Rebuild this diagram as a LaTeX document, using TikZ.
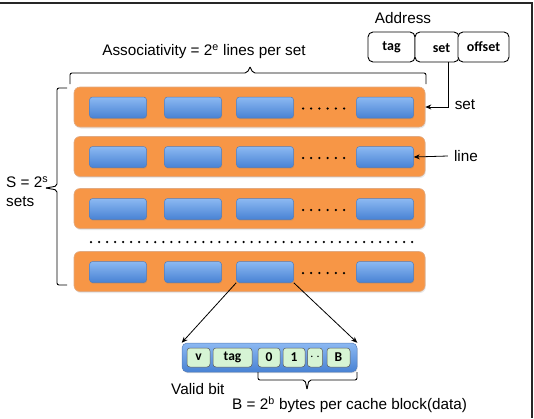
\documentclass[tikz,border=0pt]{standalone}
\usepackage{fontspec}
\setmainfont{Liberation Sans}
\newfontfamily\carlito{Carlito}
\usetikzlibrary{arrows.meta,shadows}
\definecolor{orng}{RGB}{247,150,70}
\definecolor{orngedge}{RGB}{225,170,130}
\definecolor{bluetop}{RGB}{140,185,242}
\definecolor{bluebot}{RGB}{72,130,212}
\definecolor{blueedge}{RGB}{85,125,185}
\definecolor{greenfill}{RGB}{214,244,212}
\tikzset{
  orangebox/.style={rounded corners=6pt, fill=orng, draw=orngedge, line width=0.6pt,
    minimum width=351pt, minimum height=40pt, inner sep=0pt,
    drop shadow={opacity=0.18, shadow xshift=0.8pt, shadow yshift=-1.5pt}},
  bluebox/.style={rounded corners=3pt, top color=bluetop, bottom color=bluebot, draw=blueedge,
    line width=0.5pt, minimum width=57pt, minimum height=21pt, inner sep=0pt,
    drop shadow={opacity=0.3, shadow xshift=0.6pt, shadow yshift=-1.2pt}},
  cacheblk/.style={rounded corners=5pt, top color=bluetop, bottom color=bluebot, draw=blueedge,
    line width=0.5pt, minimum width=175pt, minimum height=29pt, inner sep=0pt,
    drop shadow={opacity=0.25, shadow xshift=0.6pt, shadow yshift=-1.2pt}},
  greenbox/.style={rounded corners=3pt, fill=greenfill, draw=black!65, line width=0.5pt,
    minimum height=19pt, inner sep=0pt, font=\carlito\bfseries\fontsize{13.5}{15}\selectfont},
  addrbox/.style={rounded corners=5pt, draw=black, fill=white, line width=0.9pt,
    minimum height=30pt, inner sep=0pt, font=\carlito\bfseries\fontsize{14}{16}\selectfont},
  lbl/.style={font=\fontsize{15.3}{18}\selectfont, inner sep=0pt},
  arr/.style={-{Stealth[length=6pt,width=5pt]}, line width=0.8pt, black},
  brc/.style={line width=0.9pt, black, rounded corners=2pt},
  dotmark/.style={fill=black, circle, inner sep=0pt, minimum size=2.5pt}
}
\begin{document}
\begin{tikzpicture}[x=1pt,y=-1pt]
\useasboundingbox (0,0) rectangle (534,418);
% frame
\draw[line width=1.4pt, black!85] (0,3) -- (532,3) -- (532,418);

% address
\node[lbl] (addrtxt) at (403,18) {Address};
\node[addrbox, minimum width=47pt] (tagbox) at (391.5,47) {tag};
\node[addrbox, minimum width=44pt] (setbox) at (437,47) {};
\node[addrbox, minimum width=51pt] (offbox) at (483.5,47) {offset};
\node[inner sep=0pt, font=\carlito\bfseries\fontsize{14}{16}\selectfont] (settxt) at (441.5,48) {set};

% associativity label & brace
\node[lbl] (assoc) at (204,52) {Associativity = 2\textsuperscript{e} lines per set};
\coordinate (tbL) at (70,84);
\coordinate (tbR) at (426,84);
\draw[brc] (tbL) -- (70,73) -- (247,73) -- (250,67);
\draw[brc] (250,67) -- (253,73) -- (426,73) -- (tbR);

% rows
\foreach \r/\y in {1/107,2/156.5,3/208.5,4/271.5}{
  \node[orangebox] (r\r) at (249.5,\y) {};
  \foreach \c/\x in {1/118,2/193,3/265,4/385}{
    \node[bluebox] (b\r\c) at (\x,\y+0.5) {};
  }
  \foreach \i in {0,...,5}{
    \node[dotmark] (d\r\i) at (303+8.2*\i,\y+1.5) {};
  }
}
% dotted row
\foreach \i in {0,...,40}{
  \node[dotmark] (dr\i) at (91+8.03*\i,242) {};
}

% left brace
\draw[brc] (67,88) -- (57,88) -- (57,186) -- (46,188);
\draw[brc] (46,188) -- (57,190) -- (57,285) -- (67,285);
\node[lbl, anchor=west] (stxt) at (6,182) {S = 2\textsuperscript{s}};
\node[lbl, anchor=west] (setstxt) at (6,202) {sets};

% set and line pointers
\node[lbl] (setlbl) at (465,105) {set};
\node[lbl] (linelbl) at (466,156) {line};
\draw[arr, rounded corners=0pt] ([xshift=11pt]setbox.south) |- (r1.east);
\draw[arr] ([xshift=-6pt]linelbl.west) -- (b24.east);

% cache block
\node[cacheblk] (blk) at (269.5,357.5) {};
\node[greenbox, minimum width=23pt] (gv) at (198.5,357.5) {v};
\node[greenbox, minimum width=39pt] (gtag) at (232.5,357.5) {tag};
\node[greenbox, minimum width=22pt] (g0) at (269,357.5) {0};
\node[greenbox, minimum width=22pt] (g1) at (294,357.5) {1};
\node[greenbox, minimum width=15pt] (gd) at (315,357.5) {$\cdot\,\cdot$};
\node[greenbox, minimum width=23pt] (gB) at (338.5,357.5) {B};

\draw[arr] (b43.south west) -- (blk.north west);
\draw[arr] (b43.south east) -- (blk.north east);

% bottom brace
\draw[brc] (258,372) -- (258,380) -- (305,380) -- (307,389);
\draw[brc] (307,389) -- (309,380) -- (357,380) -- (357,372);

\node[lbl, anchor=west] (validtxt) at (171,389) {Valid bit};
\node[lbl, anchor=west] (btxt) at (232,405) {B = 2\textsuperscript{b} bytes per cache block(data)};
\end{tikzpicture}
\end{document}
